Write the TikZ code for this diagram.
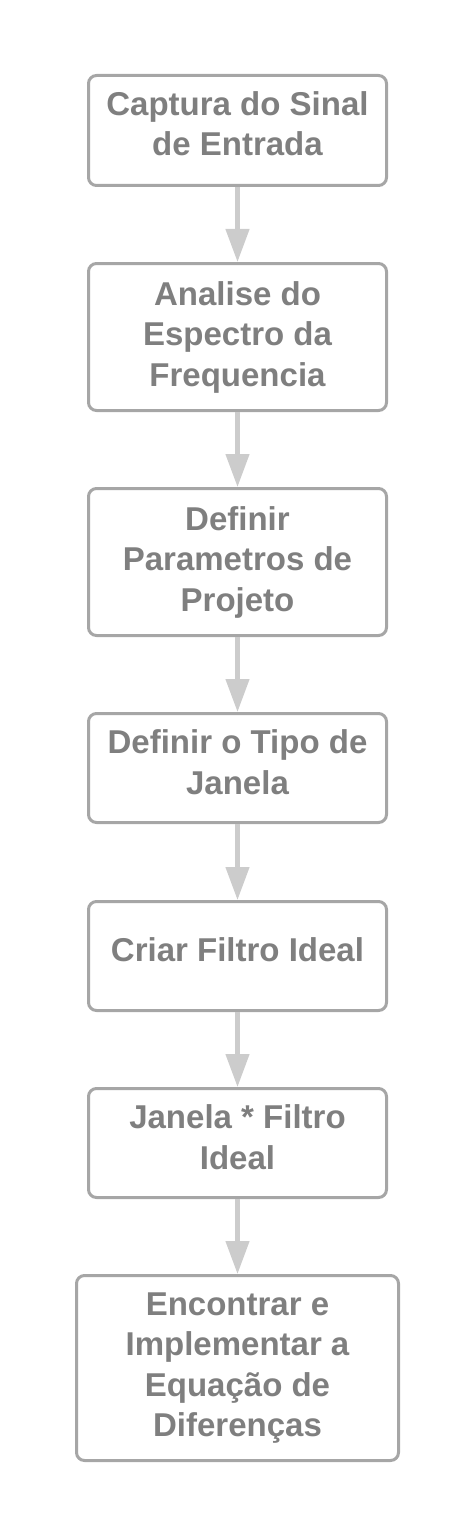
\documentclass[tikz,border=0pt]{standalone}
\usepackage{fontspec}
\setmainfont{Liberation Sans}
\usetikzlibrary{arrows.meta}
\definecolor{boxline}{HTML}{A6A6A6}
\definecolor{arrowcol}{HTML}{CCCCCC}
\definecolor{txtcol}{HTML}{7F7F7F}
\newcommand\lift[1]{\rule[-#1]{0pt}{#1}}
\tikzset{
  stepbox/.style={draw=boxline, line width=3pt, rounded corners=8pt, fill=white,
    minimum width=298pt, align=center, text=txtcol, inner sep=0pt,
    font=\fontsize{33}{40.5}\selectfont\bfseries},
  flow/.style={draw=arrowcol, line width=4.5pt,
    -{Triangle[length=33pt,width=23pt]}}
}
\begin{document}
\begin{tikzpicture}[x=1pt,y=-1pt]
\useasboundingbox (0,0) rectangle (474,1538);
\node[stepbox, minimum height=110pt] (n1) at (237.5,130.5) {Captura do Sinal\\de Entrada\lift{14pt}};
\node[stepbox, minimum height=147pt] (n2) at (237.5,337) {Analise do\\Espectro da\\Frequencia\lift{3pt}};
\node[stepbox, minimum height=147pt] (n3) at (237.5,562) {Definir\\Parametros de\\Projeto\lift{4pt}};
\node[stepbox, minimum height=109pt] (n4) at (237.5,768) {Definir o Tipo de\\Janela\lift{12pt}};
\node[stepbox, minimum height=109pt] (n5) at (237.5,956) {Criar Filtro Ideal\lift{12pt}};
\node[stepbox, minimum height=109pt] (n6) at (237.5,1143) {Janela * Filtro\\Ideal\lift{12pt}};
\node[stepbox, minimum width=322pt, minimum height=185pt] (n7) at (237.5,1368) {Encontrar e\\Implementar a\\Equação de\\Diferenças\lift{2pt}};
\draw[flow] (n1.south) -- (n2.north);
\draw[flow] (n2.south) -- (n3.north);
\draw[flow] (n3.south) -- (n4.north);
\draw[flow] (n4.south) -- (n5.north);
\draw[flow] (n5.south) -- (n6.north);
\draw[flow] (n6.south) -- (n7.north);
\end{tikzpicture}
\end{document}
